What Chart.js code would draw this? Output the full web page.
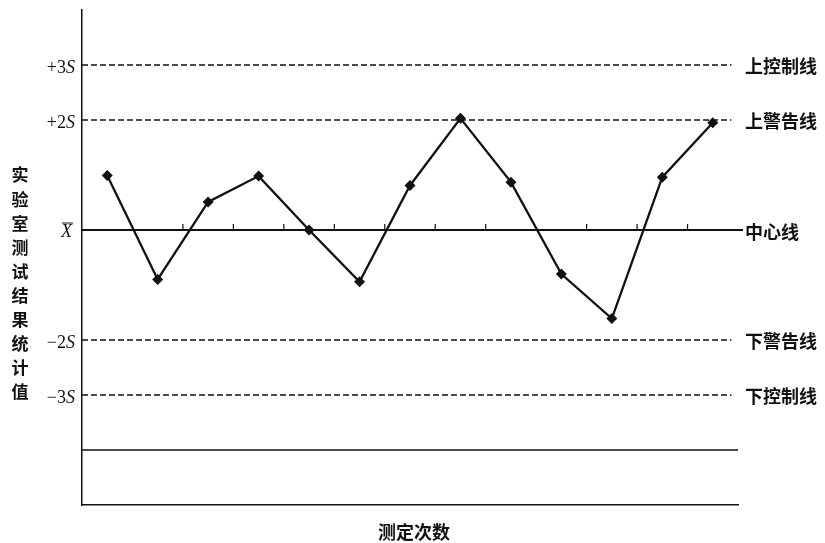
<!DOCTYPE html>
<html lang="zh">
<head>
<meta charset="UTF-8">
<title>质量控制图</title>
<script src="https://cdn.jsdelivr.net/npm/chart.js@4/dist/chart.umd.min.js"></script>
<style>
    * { margin: 0; padding: 0; box-sizing: border-box; }
    body { background: #fff; width: 825px; height: 543px; overflow: hidden; }
    #wrap { position: relative; width: 825px; height: 543px; }
</style>
</head>
<body>
<div id="wrap"><canvas id="qc"></canvas></div>
<script>
// measurement number and result (in units of S from the mean)
const runs = [1, 2, 3, 4, 5, 6, 7, 8, 9, 10, 11, 12, 13];
const results = [0.99, -0.9, 0.51, 0.98, 0, -0.94, 0.81, 2.03, 0.87, -0.8, -1.61, 0.96, 1.95];

// limit lines
const limitLevels = [3, 2, -2, -3];
const leftLabels = ['+3', '+2', '−2', '−3'];
const rightLabels = ['上控制线', '上警告线', '下警告线', '下控制线'];
const centerLabel = '中心线';
const baseLevel = -4;

// small ticks on the centre line
const centerTicks = [2.5, 3.5, 4.5, 5.5, 6.5, 7.5, 8.5, 10.5, 11.5, 12.5];

const yTitle = '实验室测试结果统计值';
const xTitle = '测定次数';

const ink = '#111';
const xMin = 0.5, xMax = 13.5;

const limitSets = limitLevels.map(v => ({
    data: [{x: xMin, y: v}, {x: 13.37, y: v}],
    borderColor: ink, borderWidth: 1.5, borderDash: [6, 3],
    pointRadius: 0, showLine: true, clip: false
}));

const labelPlugin = {
    id: 'labels',
    afterDraw(chart) {
        const ctx = chart.ctx;
        const xs = chart.scales.x, ys = chart.scales.y;
        ctx.save();
        ctx.fillStyle = ink;
        ctx.strokeStyle = ink;

        // ticks on the centre line
        ctx.lineWidth = 1.2;
        const y0 = ys.getPixelForValue(0);
        centerTicks.forEach(t => {
            const px = xs.getPixelForValue(t);
            ctx.beginPath();
            ctx.moveTo(px, y0);
            ctx.lineTo(px, y0 - 6);
            ctx.stroke();
        });

        // left labels: number + italic S
        ctx.textBaseline = 'middle';
        const rightEdge = 75;
        limitLevels.forEach((v, i) => {
            const py = ys.getPixelForValue(v) + 3;
            ctx.font = 'italic 18px "Liberation Serif"';
            const sw = ctx.measureText('S').width;
            ctx.textAlign = 'right';
            ctx.fillText('S', rightEdge, py);
            ctx.font = '18px "Liberation Serif"';
            ctx.fillText(leftLabels[i], rightEdge - sw, py);
        });
        // X bar
        ctx.font = 'italic 18px "Liberation Serif"';
        ctx.textAlign = 'right';
        const xb = ys.getPixelForValue(0) + 2;
        ctx.fillText('X', 72, xb);
        const xw = ctx.measureText('X').width;
        ctx.lineWidth = 1;
        ctx.beginPath();
        ctx.moveTo(72 - xw + 1, xb - 9);
        ctx.lineTo(73, xb - 9);
        ctx.stroke();

        // right labels
        ctx.font = 'bold 18px "Noto Sans CJK SC"';
        ctx.textAlign = 'left';
        limitLevels.forEach((v, i) => {
            ctx.fillText(rightLabels[i], 745, ys.getPixelForValue(v) + 1);
        });
        ctx.fillText(centerLabel, 745, ys.getPixelForValue(0) + 2);

        // vertical y title
        ctx.font = 'bold 17px "Noto Sans CJK SC"';
        ctx.textAlign = 'center';
        [...yTitle].forEach((ch, i) => {
            ctx.fillText(ch, 20, 175 + i * 24.1);
        });

        // x title
        ctx.font = 'bold 18px "Noto Sans CJK SC"';
        ctx.fillText(xTitle, 414, 532);
        ctx.restore();
    }
};

new Chart(document.getElementById('qc'), {
    type: 'scatter',
    data: {
        datasets: [
            {
                data: runs.map((r, i) => ({x: r, y: results[i]})),
                borderColor: ink, backgroundColor: ink, borderWidth: 2.3,
                showLine: true, pointStyle: 'rectRot', pointRadius: 5.5,
                pointBorderWidth: 0, clip: false
            },
            ...limitSets,
            {
                data: [{x: xMin, y: 0}, {x: 13.6, y: 0}],
                borderColor: ink, borderWidth: 1.8, pointRadius: 0,
                showLine: true, clip: false
            },
            {
                data: [{x: xMin, y: baseLevel}, {x: xMax, y: baseLevel}],
                borderColor: ink, borderWidth: 1.3, pointRadius: 0,
                showLine: true, clip: false
            }
        ]
    },
    options: {
        responsive: true,
        maintainAspectRatio: false,
        animation: false,
        layout: { padding: { left: 74, right: 87, top: 10, bottom: 30 } },
        plugins: { legend: { display: false }, tooltip: { enabled: false } },
        scales: {
            x: {
                type: 'linear', min: xMin, max: xMax,
                grid: { display: false },
                border: { display: true, color: ink, width: 1.5 },
                ticks: { display: false }
            },
            y: {
                type: 'linear', min: -5, max: 4,
                grid: { display: false },
                border: { display: true, color: ink, width: 1.5 },
                ticks: { display: false }
            }
        }
    },
    plugins: [labelPlugin]
});
</script>
</body>
</html>
